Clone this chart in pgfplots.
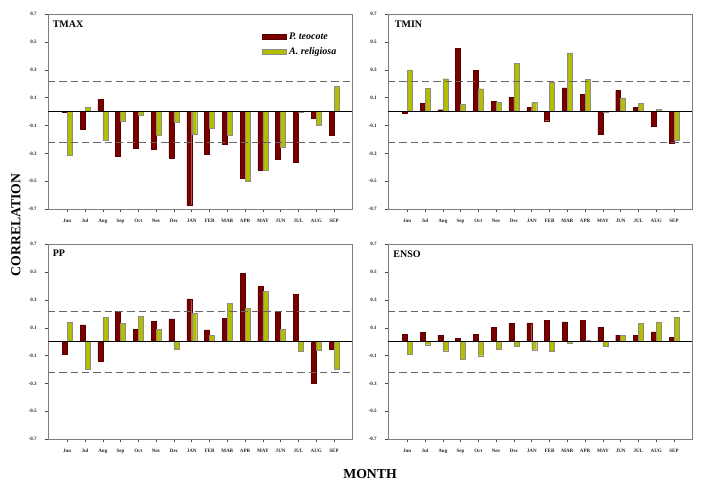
\documentclass[border=0pt]{standalone}
\usepackage{pgfplots}
\pgfplotsset{compat=1.18}
\usepackage{pgfplotstable}
\usepackage{fontspec}
\setmainfont{Liberation Serif}
\definecolor{pred}{HTML}{7A0000}
\definecolor{ayel}{HTML}{B5BD00}
\definecolor{framegray}{HTML}{7F7F7F}

\pgfplotstableread{
x r y
0 -0.005 -0.313
1 -0.129 0.031
2 0.091 -0.208
3 -0.320 -0.072
4 -0.260 -0.024
5 -0.268 -0.167
6 -0.333 -0.074
7 -0.670 -0.160
8 -0.304 -0.122
9 -0.232 -0.172
10 -0.481 -0.500
11 -0.419 -0.419
12 -0.344 -0.256
13 -0.361 -0.007
14 -0.048 -0.100
15 -0.167 0.184
}\tmax

\pgfplotstableread{
x r y
0 -0.014 0.301
1 0.060 0.170
2 0.014 0.237
3 0.457 0.053
4 0.299 0.165
5 0.072 0.067
6 0.105 0.347
7 0.033 0.067
8 -0.065 0.215
9 0.172 0.423
10 0.124 0.232
11 -0.163 -0.007
12 0.151 0.100
13 0.033 0.060
14 -0.103 0.017
15 -0.225 -0.203
}\tmin

\pgfplotstableread{
x r y
0 -0.087 0.140
1 0.120 -0.200
2 -0.140 0.173
3 0.216 0.130
4 0.087 0.183
5 0.144 0.091
6 0.164 -0.053
7 0.308 0.202
8 0.084 0.046
9 0.166 0.274
10 0.493 0.238
11 0.397 0.363
12 0.214 0.087
13 0.342 -0.072
14 -0.301 -0.060
15 -0.053 -0.200
}\pp

\pgfplotstableread{
x r y
0 0.055 -0.091
1 0.067 -0.022
2 0.043 -0.065
3 0.024 -0.125
4 0.053 -0.101
5 0.101 -0.053
6 0.132 -0.031
7 0.135 -0.058
8 0.154 -0.067
9 0.142 -0.014
10 0.152 0.012
11 0.103 -0.036
12 0.048 0.046
13 0.043 0.132
14 0.070 0.142
15 0.029 0.173
}\enso

\pgfplotsset{
  panel/.style={
    width=228pt, height=146pt, scale only axis,
    anchor=south west,
    xmin=-1.08, xmax=16.01, ymin=-0.7, ymax=0.7,
    xtick={0,...,15},
    xticklabels={Jun,Jul,Aug,Sep,Oct,Nov,Dec,JAN,FEB,MAR,APR,MAY,JUN,JUL,AUG,SEP},
    ytick={-0.7,-0.5,-0.3,-0.1,0.1,0.3,0.5,0.7},
    yticklabels={-0.7,-0.5,-0.3,-0.1,0.1,0.3,0.5,0.7},
    /pgf/number format/assume math mode=true,
    tick align=outside, tick pos=left, major tick length=2.5pt,
    tick style={black!70, line width=0.4pt},
    axis line style={framegray, line width=0.6pt},
    ticklabel style={font=\bfseries\fontsize{3.8}{4}\selectfont, text=black!85},
    xticklabel style={yshift=-1.5pt},
    yticklabel style={xshift=-2.5pt},
    clip=false,
  },
  redbar/.style={ybar, bar width=0.28, bar shift=-0.14, fill=pred, draw=pred!75!black, line width=0.3pt},
  yelbar/.style={ybar, bar width=0.28, bar shift=0.14, fill=ayel, draw=black!45, line width=0.3pt},
}
\tikzset{ptitle/.style={anchor=west, inner sep=0pt, font=\bfseries\fontsize{7.5}{8}\selectfont}}

\newcommand{\refl}{%
  \addplot[forget plot, black!60, line width=0.8pt, dash pattern=on 5.5pt off 3pt] coordinates {(-1.08,0.22) (16.01,0.22)};
  \addplot[forget plot, black!60, line width=0.8pt, dash pattern=on 5.5pt off 3pt] coordinates {(-1.08,-0.22) (16.01,-0.22)};
  \addplot[forget plot, black, line width=0.5pt] coordinates {(-1.08,0) (16.01,0)};
}

\begin{document}
\begin{tikzpicture}
\path (0,0) rectangle (534pt,363.75pt);

\begin{axis}[panel, at={(36pt,207pt)},
  legend style={draw=none, fill=none, at={(rel axis cs:0.69,0.935)}, anchor=north west,
    font=\bfseries\itshape\fontsize{7.5}{8}\selectfont, row sep=0.5pt},
  legend cell align=left,
  legend image code/.code={\fill[#1] (0pt,-1.9pt) rectangle (18pt,1.9pt);}]
\addplot[redbar] table[x=x,y=r]{\tmax};
\addlegendentry{P. teocote}
\addplot[yelbar] table[x=x,y=y]{\tmax};
\addlegendentry{A. religiosa}
\refl
\node[ptitle] at (rel axis cs:0.015,0.948) {TMAX};
\end{axis}

\begin{axis}[panel, at={(291pt,207pt)}]
\addplot[redbar] table[x=x,y=r]{\tmin};
\addplot[yelbar] table[x=x,y=y]{\tmin};
\refl
\node[ptitle] at (rel axis cs:0.022,0.948) {TMIN};
\end{axis}

\begin{axis}[panel, at={(36pt,34.5pt)}]
\addplot[redbar] table[x=x,y=r]{\pp};
\addplot[yelbar] table[x=x,y=y]{\pp};
\refl
\node[ptitle] at (rel axis cs:0.015,0.952) {PP};
\end{axis}

\begin{axis}[panel, at={(291pt,34.5pt)}]
\addplot[redbar] table[x=x,y=r]{\enso};
\addplot[yelbar] table[x=x,y=y]{\enso};
\refl
\node[ptitle] at (rel axis cs:0.017,0.948) {ENSO};
\end{axis}

\node[rotate=90, font=\bfseries\fontsize{10.3}{12}\selectfont] at (12pt,195pt) {CORRELATION};
\node[font=\bfseries\fontsize{10.3}{12}\selectfont] at (277.5pt,8.5pt) {MONTH};
\end{tikzpicture}
\end{document}
